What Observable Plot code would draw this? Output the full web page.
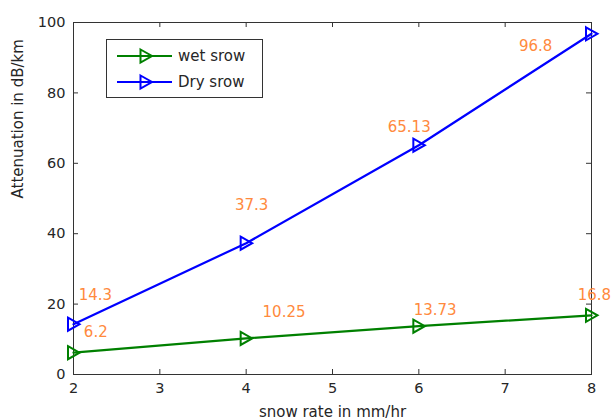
<!DOCTYPE html>
<html><head><meta charset="utf-8">
<script src="https://cdn.jsdelivr.net/npm/d3@7"></script>
<script src="https://cdn.jsdelivr.net/npm/@observablehq/plot@0.6"></script>
<style>body{margin:0;background:#fff}#chart{width:612px;height:420px}</style>
</head><body><div id="chart"></div>
<script>
const snowRate = [2, 4, 6, 8];
const wetSnow = [6.2, 10.25, 13.73, 16.8];
const drySnow = [14.3, 37.3, 65.13, 96.8];
const seriesNames = ["wet srow", "Dry srow"];
const seriesColors = ["#008000", "#0000ff"];
const xTicks = [2, 3, 4, 5, 6, 7, 8];
const yTicks = [0, 20, 40, 60, 80, 100];
const xLabel = "snow rate in mm/hr";
const yLabel = "Attenuation in dB/km";
const annText = ["14.3", "6.2", "37.3", "10.25", "65.13", "13.73", "96.8", "16.8"];
const annX = [2.06, 2.12, 3.87, 4.19, 5.64, 5.94, 7.16, 7.84];
const annY = [22.4, 11.9, 48.0, 17.6, 70.4, 18.3, 93.2, 22.5];

const rows = [];
snowRate.forEach((x, i) => {
  rows.push({x, y: wetSnow[i], s: seriesNames[0]});
});
snowRate.forEach((x, i) => {
  rows.push({x, y: drySnow[i], s: seriesNames[1]});
});
const ann = annText.map((t, i) => ({t, x: annX[i], y: annY[i]}));

const triRight = {
  draw(ctx) {
    ctx.moveTo(-5.5, -6.5);
    ctx.lineTo(6, 0);
    ctx.lineTo(-5.5, 6.5);
    ctx.closePath();
  }
};

const font = "'DejaVu Sans', sans-serif";
const ink = "#262626";
const W = 612, H = 420, mL = 73, mR = 21, mT = 22, mB = 46;
const frameW = W - mL - mR, frameH = H - mT - mB, tk = 5;

const svg = Plot.plot({
  width: W, height: H,
  marginLeft: mL, marginRight: mR, marginTop: mT, marginBottom: mB,
  style: {fontFamily: font, fontSize: "14px", color: ink, background: "#fff", overflow: "visible"},
  x: {domain: [2, 8]},
  y: {domain: [0, 100]},
  color: {domain: seriesNames, range: seriesColors},
  marks: [
    Plot.tickX(xTicks, {x: d => d, insetTop: frameH - tk, stroke: "#333"}),
    Plot.tickX(xTicks, {x: d => d, insetBottom: frameH - tk, stroke: "#333"}),
    Plot.tickY(yTicks, {y: d => d, insetLeft: frameW - tk, stroke: "#333"}),
    Plot.tickY(yTicks, {y: d => d, insetRight: frameW - tk, stroke: "#333"}),
    Plot.frame({stroke: "#333", strokeWidth: 1}),
    Plot.axisX(xTicks, {tickSize: 0, tickPadding: 8, label: null, fontSize: 14.5, fill: ink}),
    Plot.axisY(yTicks, {tickSize: 0, tickPadding: 8, label: null, fontSize: 14.5, fill: ink}),
    Plot.text([xLabel], {frameAnchor: "bottom", dy: 42, lineAnchor: "bottom", fontSize: 15, fill: ink}),
    Plot.text([yLabel], {frameAnchor: "left", dx: -55, rotate: -90, fontSize: 15, fill: ink}),
    Plot.line(rows, {x: "x", y: "y", z: "s", stroke: "s", strokeWidth: 2.2}),
    Plot.dot(rows, {x: "x", y: "y", stroke: "s", symbol: triRight, r: 5, strokeWidth: 2, fill: "none"}),
    Plot.text(ann, {x: "x", y: "y", text: "t", textAnchor: "start", fill: "#ff8a3d", fontSize: 15})
  ]
});

// legend box
const lg = d3.select(svg).append("g")
  .attr("font-family", font).attr("font-size", 15).attr("text-anchor", "start");
lg.append("rect").attr("x", 106.5).attr("y", 39.5).attr("width", 156).attr("height", 58)
  .attr("fill", "#fff").attr("stroke", "#333");
seriesNames.forEach((name, i) => {
  const cy = 56 + i * 26;
  lg.append("line").attr("x1", 117).attr("x2", 172).attr("y1", cy).attr("y2", cy)
    .attr("stroke", seriesColors[i]).attr("stroke-width", 2.2);
  const p = d3.path(); triRight.draw(p);
  lg.append("path").attr("d", p.toString()).attr("transform", `translate(146,${cy})`)
    .attr("fill", "none").attr("stroke", seriesColors[i]).attr("stroke-width", 2);
  lg.append("text").attr("x", 178).attr("y", cy).attr("dy", "0.35em")
    .attr("text-anchor", "start").attr("fill", ink).text(name);
});

document.getElementById("chart").appendChild(svg);
</script>
</body></html>
